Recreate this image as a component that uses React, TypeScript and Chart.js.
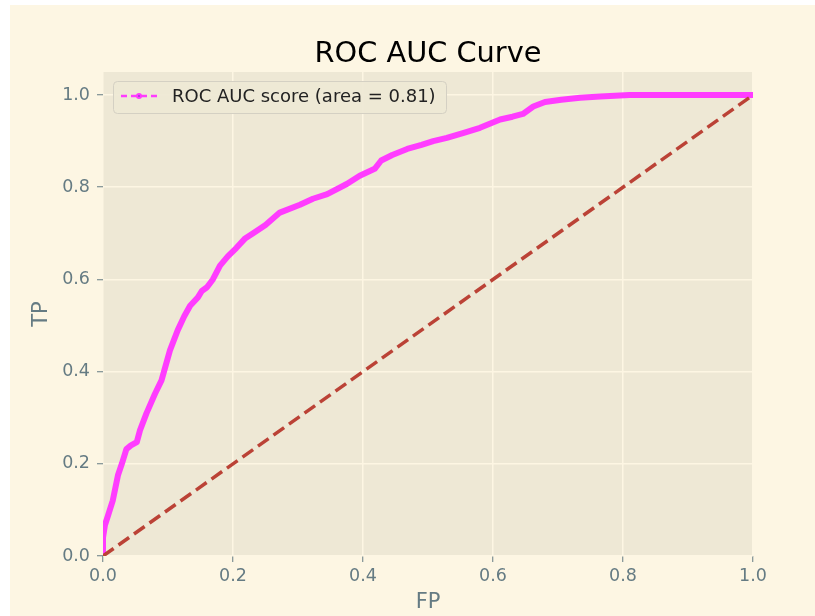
import React, { useEffect, useRef } from "react";
import { Chart, registerables } from "chart.js";

Chart.register(...registerables);

const chartTitle = "ROC AUC Curve";
const legendLabel = "ROC AUC score (area = 0.81)";
const xLabel = "FP";
const yLabel = "TP";

const fpr = [0, 0, 0.003, 0.008, 0.015, 0.023, 0.029, 0.036, 0.043, 0.052, 0.057, 0.067, 0.080, 0.090, 0.103, 0.115, 0.125, 0.134, 0.146, 0.152, 0.160, 0.169, 0.180, 0.192, 0.205, 0.218, 0.231, 0.250, 0.272, 0.303, 0.323, 0.345, 0.375, 0.395, 0.418, 0.428, 0.445, 0.468, 0.490, 0.508, 0.529, 0.555, 0.580, 0.611, 0.630, 0.646, 0.662, 0.680, 0.705, 0.734, 0.765, 0.810, 0.850, 1.0];
const tpr = [0, 0.04, 0.067, 0.089, 0.12, 0.175, 0.20, 0.232, 0.240, 0.247, 0.273, 0.31, 0.352, 0.381, 0.446, 0.49, 0.52, 0.543, 0.561, 0.575, 0.583, 0.600, 0.630, 0.650, 0.668, 0.688, 0.700, 0.718, 0.745, 0.762, 0.775, 0.785, 0.807, 0.825, 0.840, 0.858, 0.870, 0.883, 0.892, 0.900, 0.907, 0.918, 0.929, 0.947, 0.953, 0.959, 0.975, 0.985, 0.990, 0.994, 0.997, 1.0, 1.0, 1.0];

const diagX = [0, 1];
const diagY = [0, 1];

const FONT = "'DejaVu Sans', sans-serif";
const TEXT = "#657b83";
const MAGENTA = "#ff3cff";
const DIAG = "#bb4236";

export default function App() {
  const ref = useRef<HTMLCanvasElement | null>(null);

  useEffect(() => {
    if (!ref.current) return;
    const bgPlugin = {
      id: "axbg",
      beforeDraw(chart: any) {
        const { ctx, chartArea: a } = chart;
        ctx.save();
        ctx.fillStyle = "#eee8d5";
        ctx.fillRect(a.left, a.top, a.right - a.left, a.bottom - a.top);
        ctx.restore();
      },
    };
    const decoPlugin = {
      id: "deco",
      afterDraw(chart: any) {
        const { ctx, chartArea: a } = chart;
        ctx.save();
        // title
        ctx.fillStyle = "#000";
        ctx.font = `28.8px ${FONT}`;
        ctx.textAlign = "center";
        ctx.textBaseline = "alphabetic";
        ctx.fillText(chartTitle, (a.left + a.right) / 2, 57);
        // legend
        const bx = a.left + 10, by = a.top + 9, bw = 333, bh = 32;
        ctx.fillStyle = "rgba(238,232,213,0.92)";
        ctx.strokeStyle = "#d4d0c3";
        ctx.lineWidth = 1;
        ctx.beginPath();
        (ctx as any).roundRect(bx + 0.5, by + 0.5, bw, bh, 4);
        ctx.fill();
        ctx.stroke();
        const ly = by + bh / 2 - 1;
        ctx.strokeStyle = MAGENTA;
        ctx.lineWidth = 2.5;
        ctx.setLineDash([6, 4]);
        ctx.beginPath();
        ctx.moveTo(bx + 8, ly);
        ctx.lineTo(bx + 44, ly);
        ctx.stroke();
        ctx.setLineDash([]);
        ctx.fillStyle = MAGENTA;
        ctx.beginPath();
        ctx.arc(bx + 26, ly, 3, 0, Math.PI * 2);
        ctx.fill();
        ctx.fillStyle = "#9a38d8";
        ctx.beginPath();
        ctx.arc(bx + 26, ly, 1, 0, Math.PI * 2);
        ctx.fill();
        ctx.fillStyle = "#222";
        ctx.font = `18px ${FONT}`;
        ctx.textAlign = "left";
        ctx.textBaseline = "middle";
        ctx.fillText(legendLabel, bx + 59, ly + 1);
        ctx.restore();
      },
    };

    const chart = new Chart(ref.current, {
      type: "scatter",
      data: {
        datasets: [
          {
            label: "diagonal",
            data: diagX.map((x, i) => ({ x, y: diagY[i] })),
            showLine: true,
            borderColor: DIAG,
            borderWidth: 3.5,
            borderDash: [13, 6],
            pointRadius: 0,
            clip: 0,
            order: 0,
          },
          {
            label: legendLabel,
            data: fpr.map((x, i) => ({ x, y: tpr[i] })),
            showLine: true,
            borderColor: MAGENTA,
            borderWidth: 6,
            borderJoinStyle: "round",
            borderCapStyle: "round",
            pointRadius: 0,
            clip: 0,
            order: 1,
          },
        ],
      },
      options: {
        animation: false,
        responsive: false,
        layout: { padding: { top: 67, right: 62, left: 0, bottom: 0 } },
        plugins: { legend: { display: false }, tooltip: { enabled: false }, title: { display: false } },
        scales: {
          x: {
            type: "linear",
            min: 0,
            max: 1,
            ticks: {
              stepSize: 0.2,
              padding: 4,
              color: TEXT,
              font: { family: FONT, size: 17.5 },
              callback: (v: any) => Number(v).toFixed(1),
            },
            grid: { color: "#fdf6e3", lineWidth: 1.5, tickColor: TEXT, tickLength: 6, tickWidth: 1 },
            border: { display: false },
            title: { display: true, text: xLabel, color: TEXT, font: { family: FONT, size: 21 }, padding: { top: 0, bottom: 1 } },
            afterFit: (s: any) => { s.height = 60; },
          },
          y: {
            type: "linear",
            min: 0,
            max: 1.05,
            ticks: {
              stepSize: 0.2,
              includeBounds: false,
              padding: 7,
              color: TEXT,
              font: { family: FONT, size: 17.5 },
              callback: (v: any) => Number(v).toFixed(1),
            },
            grid: { color: "#fdf6e3", lineWidth: 1.5, tickColor: TEXT, tickLength: 6, tickWidth: 1 },
            border: { display: false },
            title: { display: true, text: yLabel, color: TEXT, font: { family: FONT, size: 21 }, padding: { top: 19, bottom: 0 } },
            afterFit: (s: any) => { s.width = 93; },
          },
        },
      },
      plugins: [bgPlugin, decoPlugin],
    } as any);
    return () => chart.destroy();
  }, []);

  return (
    <div style={{ position: "absolute", left: 0, top: 0, width: 815, height: 616, background: "#ffffff" }}>
      <div style={{ position: "absolute", left: 10, top: 5, width: 805, height: 611, background: "#fdf6e3" }}>
        <canvas ref={ref} width={805} height={611} style={{ display: "block", width: 805, height: 611 }} />
      </div>
    </div>
  );
}
